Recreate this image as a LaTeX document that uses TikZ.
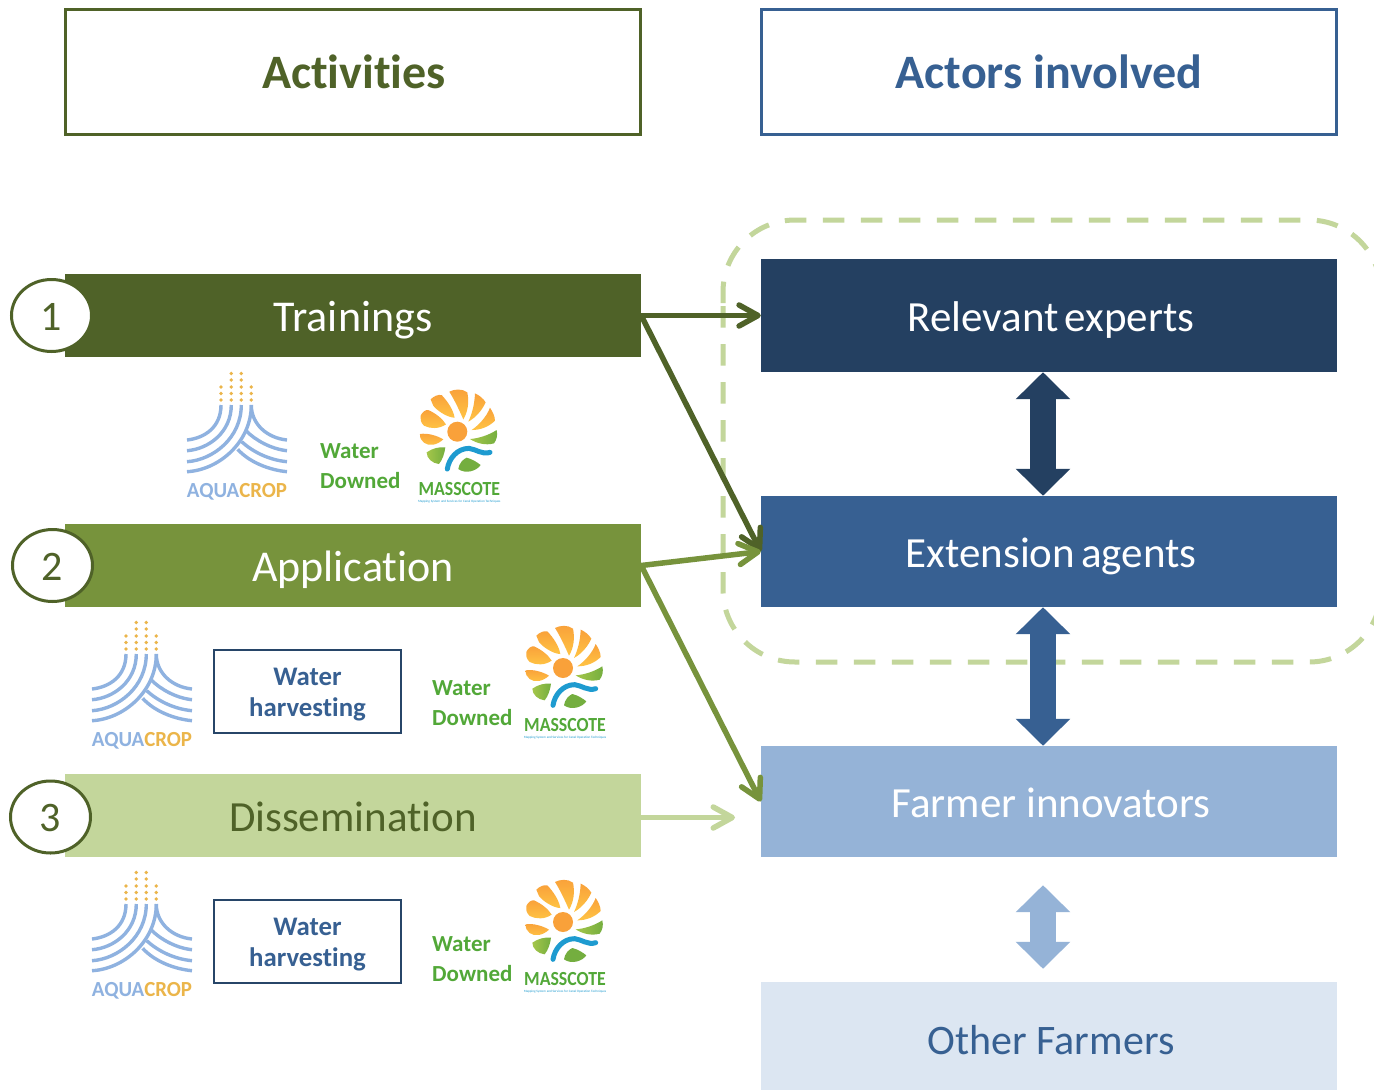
\documentclass[tikz,border=0pt]{standalone}
\usepackage{fontspec}
\setmainfont{Carlito}[Ligatures=NoCommon]
\usetikzlibrary{arrows.meta,calc,shapes.geometric}
\definecolor{olive}{HTML}{4F6228}
\definecolor{midgreen}{HTML}{77933C}
\definecolor{palegreen}{HTML}{C3D69B}
\definecolor{navy}{HTML}{244061}
\definecolor{steel}{HTML}{376092}
\definecolor{skyb}{HTML}{95B3D7}
\definecolor{paleb}{HTML}{DCE6F2}
\definecolor{logogreen}{HTML}{52A838}
\definecolor{aquablue}{HTML}{8FB2E0}
\definecolor{aquagold}{HTML}{EBB54A}
\definecolor{sunor}{HTML}{F9A13A}
\definecolor{sunye}{HTML}{FFC444}
\definecolor{leafg}{HTML}{74AE3F}
\definecolor{leafl}{HTML}{A5C64A}
\definecolor{swoosh}{HTML}{1E9BD0}
\tikzset{
  x=1pt,y=-1pt,
  headbox/.style={draw=#1,line width=3pt,fill=white,minimum width=575pt,minimum height=125pt,inner sep=0pt,text height=36pt,text depth=3pt,font=\fontsize{48}{48}\selectfont\bfseries,text=#1},
  barbox/.style={fill=#1,minimum width=576pt,minimum height=83pt,inner sep=0pt,text height=34pt,text depth=3pt,text=white,font=\fontsize{44}{44}\selectfont},
  actorbox/.style={fill=#1,minimum width=576pt,inner sep=0pt,text height=34pt,text depth=3pt,text=white,font=\fontsize{43}{43}\selectfont,execute at begin node=\hspace*{4pt}},
  numcirc/.style={draw=olive,line width=3pt,fill=white,ellipse,minimum width=80pt,minimum height=72pt,inner sep=0pt,text height=29pt,text depth=0pt,font=\fontsize{42}{42}\selectfont,text=olive},
  link/.style={draw=#1,line width=5.5pt,-{Straight Barb[length=19pt,width=21pt,round]}},
  both/.style={draw=#1,line width=26pt,{Triangle[length=27pt,width=53pt,fill=#1]}-{Triangle[length=27pt,width=53pt,fill=#1]}},
  waterbox/.style={draw=navy!85!steel,line width=2pt,fill=white,minimum width=187pt,minimum height=83pt,align=center,inner sep=0pt,text=steel,font=\fontsize{26.8}{31}\selectfont\bfseries},
  watertext/.style={align=left,inner sep=0pt,text=logogreen,font=\fontsize{23}{30}\selectfont\bfseries},
  aquawave/.style={draw=aquablue,line width=3.4pt},
  aquadot/.style={fill=aquagold},
  leaf/.style={draw=none},
  petal/.style={draw=none,top color=sunor,bottom color=sunye}
}
\newcommand{\aqualogo}[3]{%
  \begin{scope}[shift={(#2,#3)}]
    \foreach \cx in {34,44.3,54.3,64.3}{\foreach \cy in {15,21.5,28}{\fill[aquadot] (\cx,\cy) circle (1.9);}}
    \foreach \cx in {44.3,54.3}{\foreach \cy in {1.5,8}{\fill[aquadot] (\cx,\cy) circle (1.9);}}
    \draw[aquawave] (34,33) .. controls (34,55) and (18,66) .. (0,68);
    \draw[aquawave] (44.3,33) .. controls (44.3,60) and (22,77) .. (0,78.7);
    \draw[aquawave] (54.3,33) .. controls (54.3,66) and (26,88) .. (0,89.7);
    \draw[aquawave] (64.3,33) .. controls (64.3,70) and (32,98) .. (0,99.7);
    \draw[aquawave] (64.3,33) .. controls (64.3,52) and (80,66) .. (100,68);
    \draw[aquawave] (59,58.7) .. controls (68,68) and (84,77) .. (100,78.7);
    \draw[aquawave] (54.7,69.7) .. controls (66,80) and (82,88) .. (100,89.7);
    \draw[aquawave] (50.7,77.3) .. controls (62,90) and (82,98) .. (100,99.7);
    \node[inner sep=0pt,anchor=base,xscale=.97,font=\fontsize{21.5}{22}\selectfont\bfseries] (#1) at (50,125) {\textcolor{aquablue}{AQUA}\textcolor{aquagold}{CROP}};
  \end{scope}}
\newcommand{\masslogo}[3]{%
  \begin{scope}[shift={(#2,#3)},x=.3333pt,y=-.3333pt]
    \path[petal] (-112,7) .. controls (-90,3) and (-60,12) .. (-42,23) .. controls (-60,40) and (-85,45) .. (-100,33) .. controls (-108,27) and (-113,18) .. (-112,7) -- cycle;
    \path[petal] (-110,-48) .. controls (-105,-60) and (-95,-66) .. (-87,-65) .. controls (-65,-55) and (-45,-40) .. (-34,-22) .. controls (-55,-8) and (-80,-8) .. (-100,-18) .. controls (-110,-28) and (-112,-38) .. (-110,-48) -- cycle;
    \path[petal] (-80,-97) .. controls (-70,-107) and (-58,-112) .. (-47,-110) .. controls (-28,-90) and (-12,-65) .. (-8,-42) .. controls (-28,-42) and (-60,-62) .. (-72,-78) -- cycle;
    \path[petal] (-24,-120) .. controls (-10,-128) and (15,-130) .. (30,-118) .. controls (36,-90) and (32,-60) .. (18,-37) .. controls (8,-60) and (-8,-95) .. (-24,-120) -- cycle;
    \path[petal] (53,-115) .. controls (65,-110) and (78,-100) .. (85,-88) .. controls (75,-65) and (55,-42) .. (33,-30) .. controls (45,-55) and (52,-85) .. (53,-115) -- cycle;
    \path[petal] (98,-72) .. controls (106,-60) and (113,-47) .. (113,-33) .. controls (95,-15) and (70,-5) .. (43,-5) .. controls (65,-20) and (88,-45) .. (98,-72) -- cycle;
    \fill[sunor] (0,0) circle (30);
    \path[leaf,left color=leafl,right color=leafg] (118,-5) .. controls (122,10) and (118,25) .. (110,35) .. controls (85,42) and (58,35) .. (38,22) .. controls (65,20) and (95,10) .. (118,-5) -- cycle;
    \path[leaf,left color=leafl,right color=leafg] (-92,62) .. controls (-75,50) and (-55,45) .. (-36,47) .. controls (-38,65) and (-45,85) .. (-55,97) .. controls (-75,95) and (-92,80) .. (-92,62) -- cycle;
    \path[leaf,fill=leafg] (3,112) .. controls (5,95) and (18,82) .. (28,78) .. controls (45,82) and (60,92) .. (70,100) .. controls (58,118) and (25,128) .. (3,112) -- cycle;
    \draw[swoosh,line width=5pt,line cap=round] (-30,112) .. controls (-25,80) and (0,50) .. (35,50) .. controls (55,52) and (75,70) .. (98,62);
    \node[inner sep=0pt,anchor=base,xscale=.89,text=logogreen,font=\fontsize{20}{20}\selectfont\bfseries] (#1t) at (6,190) {MASSCOTE};
    \node[inner sep=0pt,anchor=base,text=swoosh,font=\fontsize{3.3}{4}\selectfont] (#1s) at (6,211) {Mapping System and Services for Canal Operation Techniques};
  \end{scope}}
\begin{document}
\begin{tikzpicture}
\clip (0,0) rectangle (1374,1090);
\fill[white] (0,0) rectangle (1374,1090);
% dashed outline
\draw[palegreen,line width=5pt,dash pattern=on 21.5pt off 16.5pt,rounded corners=72pt] (723,306) -- (723,662) -- (1381,662) -- (1381,220) -- (723,220) -- (723,306);
% headings
\node[headbox=olive] (act) at (353,71.5) {\hspace*{2pt}Activities};
\node[headbox=steel] (actors) at (1049,71.5) {Actors involved};
% activities
\node[barbox=olive] (train) at (353,315.5) {Trainings};
\node[barbox=midgreen] (appl) at (353,565.5) {Application};
\node[barbox=palegreen,text=olive,font=\fontsize{43}{43}\selectfont] (diss) at (353,815.5) {Dissemination};
\node[numcirc] (n1) at (51.5,315.5) {1};
\node[numcirc] (n2) at (52.5,565.5) {2};
\node[numcirc] (n3) at (50.5,817) {3};
% actors
\node[actorbox=navy,minimum height=113pt] (exp) at (1049,315.5) {Relevant\hspace{6pt}experts};
\node[actorbox=steel,minimum height=111pt] (ext) at (1049,551.5) {Extension\hspace{6pt}agents};
\node[actorbox=skyb,minimum height=111pt] (farm) at (1049,801.5) {Farmer innovators};
\node[actorbox=paleb,minimum height=108pt,text=steel,text height=40pt,font=\fontsize{42}{42}\selectfont] (oth) at (1049,1036) {Other Farmers};
% connectors
\coordinate (dissend) at (735,817.5);
\draw[link=palegreen] ([yshift=-2pt]diss.east) -- (dissend);
\draw[link=midgreen] (appl.east) -- (farm.west);
\draw[link=olive] (train.east) -- (ext.west);
\draw[link=olive] (train.east) -- (exp.west);
\draw[link=midgreen] (appl.east) -- (ext.west);
\draw[both=navy] ([xshift=-6pt]exp.south) -- ([xshift=-6pt]ext.north);
\draw[both=steel] ([xshift=-6pt]ext.south) -- ([xshift=-6pt]farm.north);
\draw[both=skyb] ([xshift=-6pt,yshift=-28pt]farm.south) -- ([xshift=-6pt,yshift=13pt]oth.north);
% logos row 1
\aqualogo{aq1}{187}{372}
\node[watertext,anchor=west] (wd1) at (320,466) {Water\\Downed};
\masslogo{ms1}{457.3}{431.7}
% logos row 2
\aqualogo{aq2}{92}{621}
\node[waterbox] (wh2) at (307.5,691) {\rule{0pt}{24.5pt}Water\\harvesting};
\node[watertext,anchor=west] (wd2) at (432,703) {Water\\Downed};
\masslogo{ms2}{563}{668}
% logos row 3
\aqualogo{aq3}{92}{871}
\node[waterbox] (wh3) at (307.5,941.5) {\rule{0pt}{24.5pt}Water\\harvesting};
\node[watertext,anchor=west] (wd3) at (432,959) {Water\\Downed};
\masslogo{ms3}{563}{922}
\end{tikzpicture}
\end{document}
